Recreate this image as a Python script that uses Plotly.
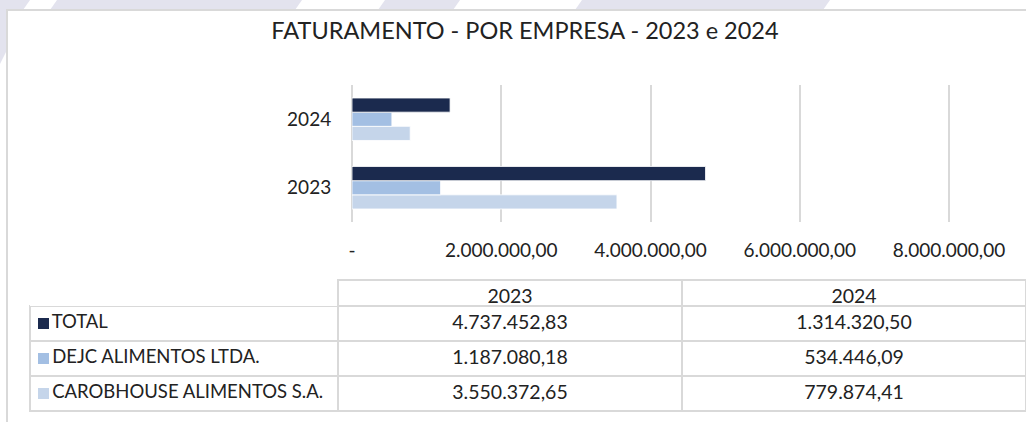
import plotly.graph_objects as go

# ---------------- data ----------------
years = ["2023", "2024"]
series_names = ["TOTAL", "DEJC ALIMENTOS LTDA.", "CAROBHOUSE ALIMENTOS S.A."]
total_vals = [4737452.83, 1314320.50]
dejc_vals = [1187080.18, 534446.09]
carob_vals = [3550372.65, 779874.41]
x_tick_vals = [0, 2000000, 4000000, 6000000, 8000000]
x_tick_text = ["-", "2.000.000,00", "4.000.000,00", "6.000.000,00", "8.000.000,00"]
title_text = "FATURAMENTO - POR EMPRESA - 2023 e 2024"

# ---------------- style ----------------
W, H = 1026, 422
FONT = "Lato"
TXT = "#222222"
GRID = "#d9d9d9"
colors = {"TOTAL": "#1b2a4e", "DEJC ALIMENTOS LTDA.": "#a3bfe3", "CAROBHOUSE ALIMENTOS S.A.": "#c5d5ea"}
values = {"TOTAL": total_vals, "DEJC ALIMENTOS LTDA.": dejc_vals, "CAROBHOUSE ALIMENTOS S.A.": carob_vals}

# table geometry (pixels)
TBL_L, TBL_TOP, HDR_H, ROW_H = 30, 280, 26, 35
COL_W = [308, 344, 344]

# plot geometry (pixels): 0 at x=352, 8M at x=949
X0_PX, X8_PX, XMAX = 352, 949, 8100000
x_right_px = X0_PX + (X8_PX - X0_PX) * XMAX / 8000000


def fx(p):
    return p / W


def fy(p):
    return 1 - p / H


def br(v):
    s = f"{v:,.2f}"
    return s.replace(",", "X").replace(".", ",").replace("X", ".")


fig = go.Figure()

# bars: plotted bottom-to-top within each group, so reverse order
for name in reversed(series_names):
    fig.add_trace(go.Bar(
        y=years, x=values[name], orientation="h", name=name,
        marker=dict(color=colors[name], line=dict(color="white", width=0.8)),
        showlegend=False, hoverinfo="x+name",
        xaxis="x", yaxis="y",
    ))

# data table
NB = "\u00a0" * 3
label_col = [NB + n for n in series_names]
col_2023 = [br(values[n][0]) for n in series_names]
col_2024 = [br(values[n][1]) for n in series_names]
tbl_bottom = TBL_TOP + HDR_H + ROW_H * len(series_names)

fig.add_trace(go.Table(
    domain=dict(x=[fx(TBL_L), 1.0], y=[fy(tbl_bottom + 3), fy(TBL_TOP)]),
    columnwidth=COL_W,
    header=dict(
        values=["", years[0], years[1]],
        align=["left", "center", "center"],
        fill_color="white",
        line=dict(color=["rgba(0,0,0,0)", GRID, GRID], width=2),
        font=dict(family=FONT, size=19.5, color=TXT),
        height=HDR_H,
    ),
    cells=dict(
        values=[label_col, col_2023, col_2024],
        align=["left", "center", "center"],
        fill_color="white",
        line=dict(color=GRID, width=2),
        font=dict(family=FONT, size=[18.5, 19.5, 19.5], color=TXT),
        height=ROW_H,
    ),
))

# background decoration: lavender band with diagonal white stripes, chart box
lav = "#e3e3ee"
band = [(0, 26), (57, 298), (385, 456), (582, 826)]
shapes = []
for a, b in band:
    path = (f"M {fx(a)},{fy(0)} L {fx(b + 4)},{fy(0)} L {fx(b - 3)},{fy(10)} "
            f"L {fx(max(a - 7, 0))},{fy(10)} Z")
    shapes.append(dict(type="path", xref="paper", yref="paper", path=path,
                       fillcolor=lav, line=dict(width=0), layer="below"))
shapes.append(dict(type="path", xref="paper", yref="paper",
                   path=f"M {fx(0)},{fy(0)} L {fx(7)},{fy(0)} L {fx(7)},{fy(50)} L {fx(0)},{fy(64)} Z",
                   fillcolor=lav, line=dict(width=0), layer="below"))
shapes.append(dict(type="rect", xref="paper", yref="paper",
                   x0=fx(7), x1=fx(W + 10), y0=fy(H + 10), y1=fy(10),
                   fillcolor="rgba(0,0,0,0)", line=dict(color=GRID, width=2), layer="below"))

# legend keys inside the table's label column
for i, name in enumerate(series_names):
    cy = TBL_TOP + HDR_H + ROW_H * i + ROW_H / 2
    shapes.append(dict(type="rect", xref="paper", yref="paper",
                       x0=fx(TBL_L + 8), x1=fx(TBL_L + 19), y0=fy(cy + 5.5), y1=fy(cy - 5.5),
                       fillcolor=colors[name], line=dict(width=0), layer="above"))

fig.update_layout(
    width=W, height=H, autosize=False,
    margin=dict(l=0, r=0, t=0, b=0, pad=0, autoexpand=False),
    paper_bgcolor="white", plot_bgcolor="white",
    font=dict(family=FONT, color=TXT),
    title=dict(text=title_text, x=fx(525), xanchor="center", y=fy(31), yanchor="middle",
               font=dict(family=FONT, size=23.5, color=TXT)),
    barmode="group", bargap=0.38, bargroupgap=0,
    shapes=shapes,
    xaxis=dict(
        domain=[fx(X0_PX), fx(x_right_px)], range=[0, XMAX],
        tickvals=x_tick_vals, ticktext=x_tick_text,
        showgrid=True, gridcolor=GRID, gridwidth=2,
        zeroline=True, zerolinecolor=GRID, zerolinewidth=2,
        showline=False, ticks="outside", ticklen=11, tickcolor="rgba(0,0,0,0)",
        tickfont=dict(family=FONT, size=19, color=TXT),
        fixedrange=True, automargin=False,
    ),
    yaxis=dict(
        domain=[fy(222), fy(85)], type="category",
        categoryorder="array", categoryarray=years,
        showgrid=False, zeroline=False, showline=False,
        ticks="outside", ticklen=16, tickcolor="rgba(0,0,0,0)",
        tickfont=dict(family=FONT, size=19, color=TXT),
        fixedrange=True, automargin=False,
    ),
)

fig.write_html(
    "out.html",
    config={"responsive": False, "displayModeBar": False},
    post_script="document.body.style.margin='0';document.body.style.overflow='hidden';",
)
